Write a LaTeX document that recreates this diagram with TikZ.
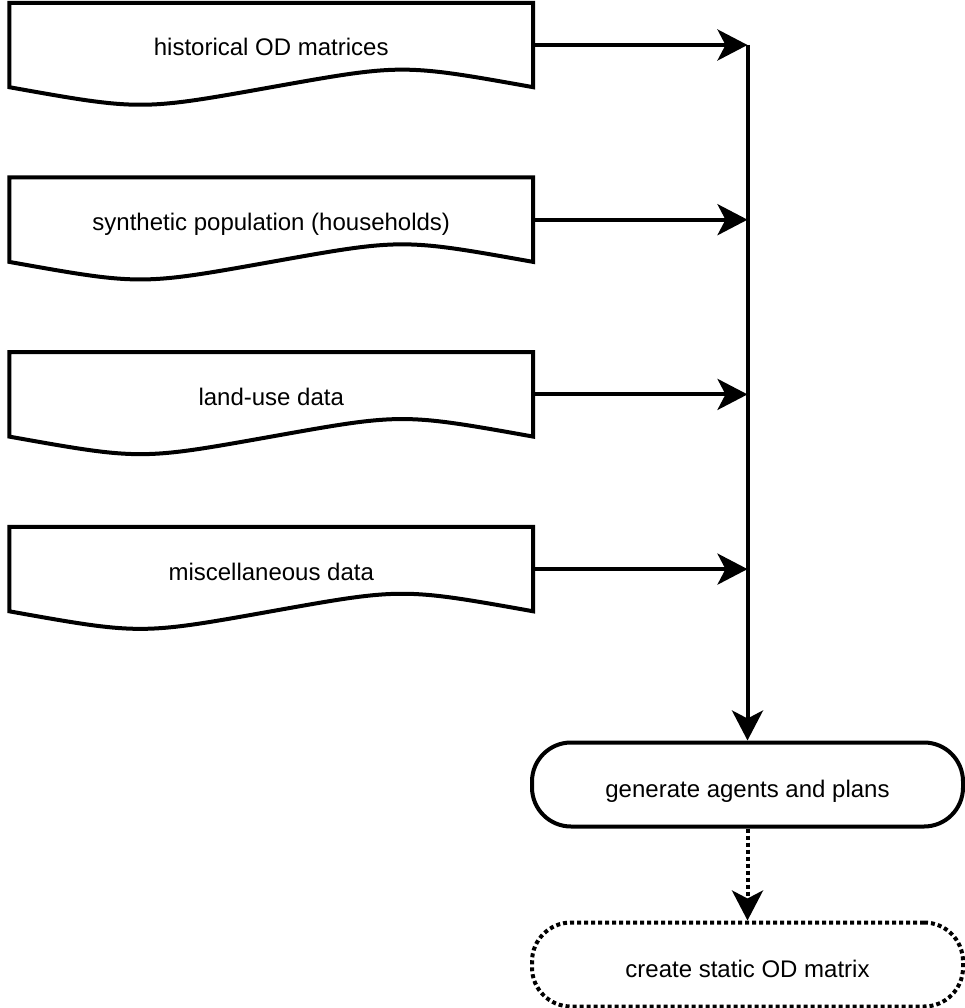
\documentclass[tikz,border=0pt]{standalone}
\usepackage{fontspec}
\setmainfont{Liberation Sans}
\usetikzlibrary{positioning,arrows.meta,calc}

\begin{document}
\begin{tikzpicture}[x=1pt,y=-1pt,
  lbl/.style={inner sep=0pt, text height=22pt, text depth=0pt, font=\fontsize{24}{29}\selectfont},
  docbox/.style={lbl, minimum width=523.5pt, minimum height=84pt},
  docline/.style={line width=4pt, line join=miter},
  termbox/.style={lbl, draw, line width=4pt, rounded corners=39pt, text height=26pt, minimum width=431pt, minimum height=84pt},
  dots/.style={dash pattern=on 4pt off 3pt},
  flow/.style={line width=4pt, -{Stealth[length=30pt,width=31pt,inset=8pt]}}]
\useasboundingbox (0,0) rectangle (965,1008);
% data sources
\node[docbox] (hist) at (271.25,45) {historical OD matrices};
\node[docbox, below=90.3pt of hist] (synth) {synthetic population (households)};
\node[docbox, below=90.3pt of synth] (landuse) {land-use data};
\node[docbox, below=90.3pt of landuse] (misc) {miscellaneous data};
\foreach \d in {hist,synth,landuse,misc}
  \draw[docline] (\d.south west) -- (\d.north west) -- (\d.north east) -- (\d.south east)
    .. controls ([shift={(-131,-23.4)}]\d.south east) .. (\d.south)
    .. controls ([shift={(131,23.4)}]\d.south west) .. (\d.south west) -- cycle;
% process steps
\node[termbox] (gen) at (747.5,784.5) {generate agents and plans};
\node[termbox, dots, below=92pt of gen] (odm) {create static OD matrix};
% connectors
\coordinate (top) at (hist.east -| gen.north);
\foreach \d in {hist,synth,landuse,misc}
  \draw[flow] (\d.east) -- (\d.east -| gen.north);
\draw[flow] (top) -- (gen.north);
\draw[flow, dots] (gen.south) -- (odm.north);
\end{tikzpicture}
\end{document}
